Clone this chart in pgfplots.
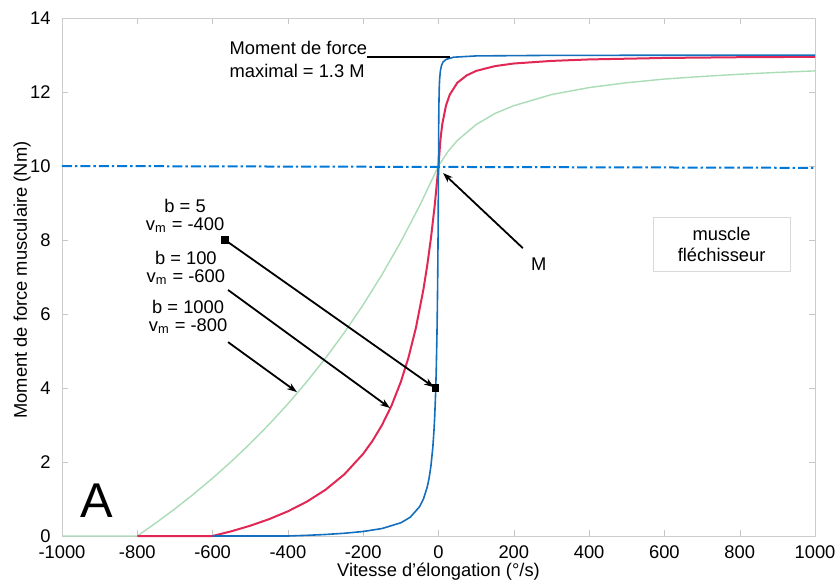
\documentclass[border=0pt]{standalone}
\usepackage{fontspec}
\setmainfont{Liberation Sans}
\usepackage{pgfplots}
\pgfplotsset{compat=1.18}
\usetikzlibrary{arrows.meta}
\definecolor{mblue}{RGB}{20,110,190}
\definecolor{dblue}{RGB}{0,120,215}
\definecolor{mred}{RGB}{225,40,85}
\definecolor{mgreen}{RGB}{170,220,182}
\begin{document}
\fontsize{9.2}{11}\selectfont
\begin{tikzpicture}
\begin{axis}[
  scale only axis, width=376.5bp, height=259bp,
  xmin=-1000, xmax=1000, ymin=0, ymax=14,
  xtick={-1000,-800,...,1000}, ytick={0,2,...,14},
  tick align=inside, major tick length=3bp,
  axis line style={gray!40}, major tick style={gray!45},
  /pgf/number format/assume math mode=true,
  /pgf/number format/1000 sep={},
  ticklabel style={font=\fontsize{9.2}{11}\selectfont, text=black},
  yticklabel style={xshift=-2.5bp},
  xticklabel style={yshift=-1.5bp},
  xlabel={Vitesse d'élongation (°/s)},
  ylabel={Moment de force musculaire (Nm)},
  xlabel style={at={(axis description cs:0.5,-0.069)}, anchor=center, font=\fontsize{9.2}{11}\selectfont},
  ylabel style={at={(axis description cs:-0.053,0.494)}, anchor=center, rotate=0, font=\fontsize{9.2}{11}\selectfont},
  clip=false,
]
\coordinate (sw) at (rel axis cs:0,0);
\coordinate (ne) at (rel axis cs:1,1);
% green: b = 1000, vm = -800
\addplot[mgreen, line width=0.7bp] coordinates {
(-1000,0) (-800,0) (-750,0.357) (-700,0.735) (-650,1.136) (-600,1.563) (-550,2.016)
(-500,2.5) (-450,3.017) (-400,3.571) (-350,4.167) (-300,4.808) (-250,5.5) (-200,6.25)
(-150,7.065) (-100,7.955) (-50,8.929) (0,10) (25,10.39) (50,10.69) (100,11.12) (150,11.42)
(200,11.63) (300,11.93) (400,12.12) (500,12.25) (600,12.35) (700,12.42) (800,12.48)
(900,12.53) (1000,12.57)};
% red: b = 100, vm = -600
\addplot[mred, line width=1bp] coordinates {
(-800,0) (-600,0) (-550,0.128) (-500,0.278) (-450,0.455) (-400,0.667) (-350,0.926)
(-300,1.25) (-250,1.667) (-200,2.222) (-175,2.576) (-150,3.0) (-125,3.519) (-100,4.167)
(-80,4.815) (-60,5.625) (-40,6.667) (-30,7.308) (-20,8.056) (-10,8.939) (0,10)
(5,10.70) (10,11.13) (20,11.64) (30,11.93) (50,12.25) (75,12.45) (100,12.57) (150,12.70)
(200,12.77) (300,12.84) (400,12.88) (500,12.90) (600,12.92) (800,12.94) (1000,12.95)};
% blue: b = 5, vm = -400
\addplot[mblue, line width=0.8bp] coordinates {
(-600,0) (-400,0) (-350,0.018) (-300,0.041) (-250,0.074) (-200,0.122) (-150,0.202)
(-100,0.357) (-75,0.508) (-50,0.795) (-40,1.0) (-30,1.321) (-25,1.563) (-20,1.9)
(-15,2.406) (-12,2.853) (-10,3.25) (-8,3.769) (-6,4.477) (-4,5.5) (-3,6.203) (-2,7.107)
(-1,8.313) (0,10) (0.5,11.12) (1,11.63) (2,12.12) (3,12.35) (5,12.57) (8,12.72) (12,12.81)
(20,12.88) (40,12.94) (100,12.975) (300,12.99) (1000,12.997)};
% dash-dot reference line
\addplot[dblue, line width=1bp, dash pattern=on 5bp off 1.5bp on 1.2bp off 1.5bp] coordinates {(-1000,10) (1000,9.95)};
% maximal moment line
\addplot[black, line width=0.8bp] coordinates {(-190,12.95) (30,12.95)};
% annotation arrows
\draw[line width=0.9bp, -{Stealth[length=5bp,width=3.5bp]}] (axis cs:-567,8.0) -- (axis cs:-12,4.02);
\draw[line width=0.9bp, -{Stealth[length=5bp,width=3.5bp]}] (axis cs:-559,6.65) -- (axis cs:-129,3.46);
\draw[line width=0.9bp, -{Stealth[length=5bp,width=3.5bp]}] (axis cs:-559,5.24) -- (axis cs:-376,3.89);
\draw[line width=0.9bp, -{Stealth[length=5bp,width=3.5bp]}] (axis cs:224,7.78) -- (axis cs:12,9.81);
\addplot[only marks, mark=square*, mark size=1.6bp, black] coordinates {(-567,8.0) (-9,4.0)};
% texts
\node[anchor=west, align=left, font=\fontsize{9.2}{11.5}\selectfont] at (axis cs:-572,12.88) {Moment de force\\maximal = 1.3 M};
\node[align=center, font=\fontsize{9.2}{9.2}\selectfont] at (axis cs:-673,8.65) {b = 5\\v\textsubscript{m} = -400};
\node[align=center, font=\fontsize{9.2}{9.2}\selectfont] at (axis cs:-671,7.25) {b = 100\\v\textsubscript{m} = -600};
\node[align=center, font=\fontsize{9.2}{9.2}\selectfont] at (axis cs:-665,5.92) {b = 1000\\v\textsubscript{m} = -800};
\node[font=\fontsize{9.2}{11}\selectfont] at (axis cs:266,7.35) {M};
\draw[gray!30, line width=0.5bp] (axis cs:570,8.62) rectangle (axis cs:934,7.14);
\node[align=center, font=\fontsize{9.2}{11}\selectfont] at (axis cs:752,7.88) {muscle\\fléchisseur};
\node[font=\fontsize{24.5}{26}\selectfont] at (axis cs:-907,0.95) {A};
\end{axis}
\pgfresetboundingbox
\path ([shift={(-31bp,-24bp)}]sw) rectangle ([shift={(12bp,9bp)}]ne);
\end{tikzpicture}
\end{document}
